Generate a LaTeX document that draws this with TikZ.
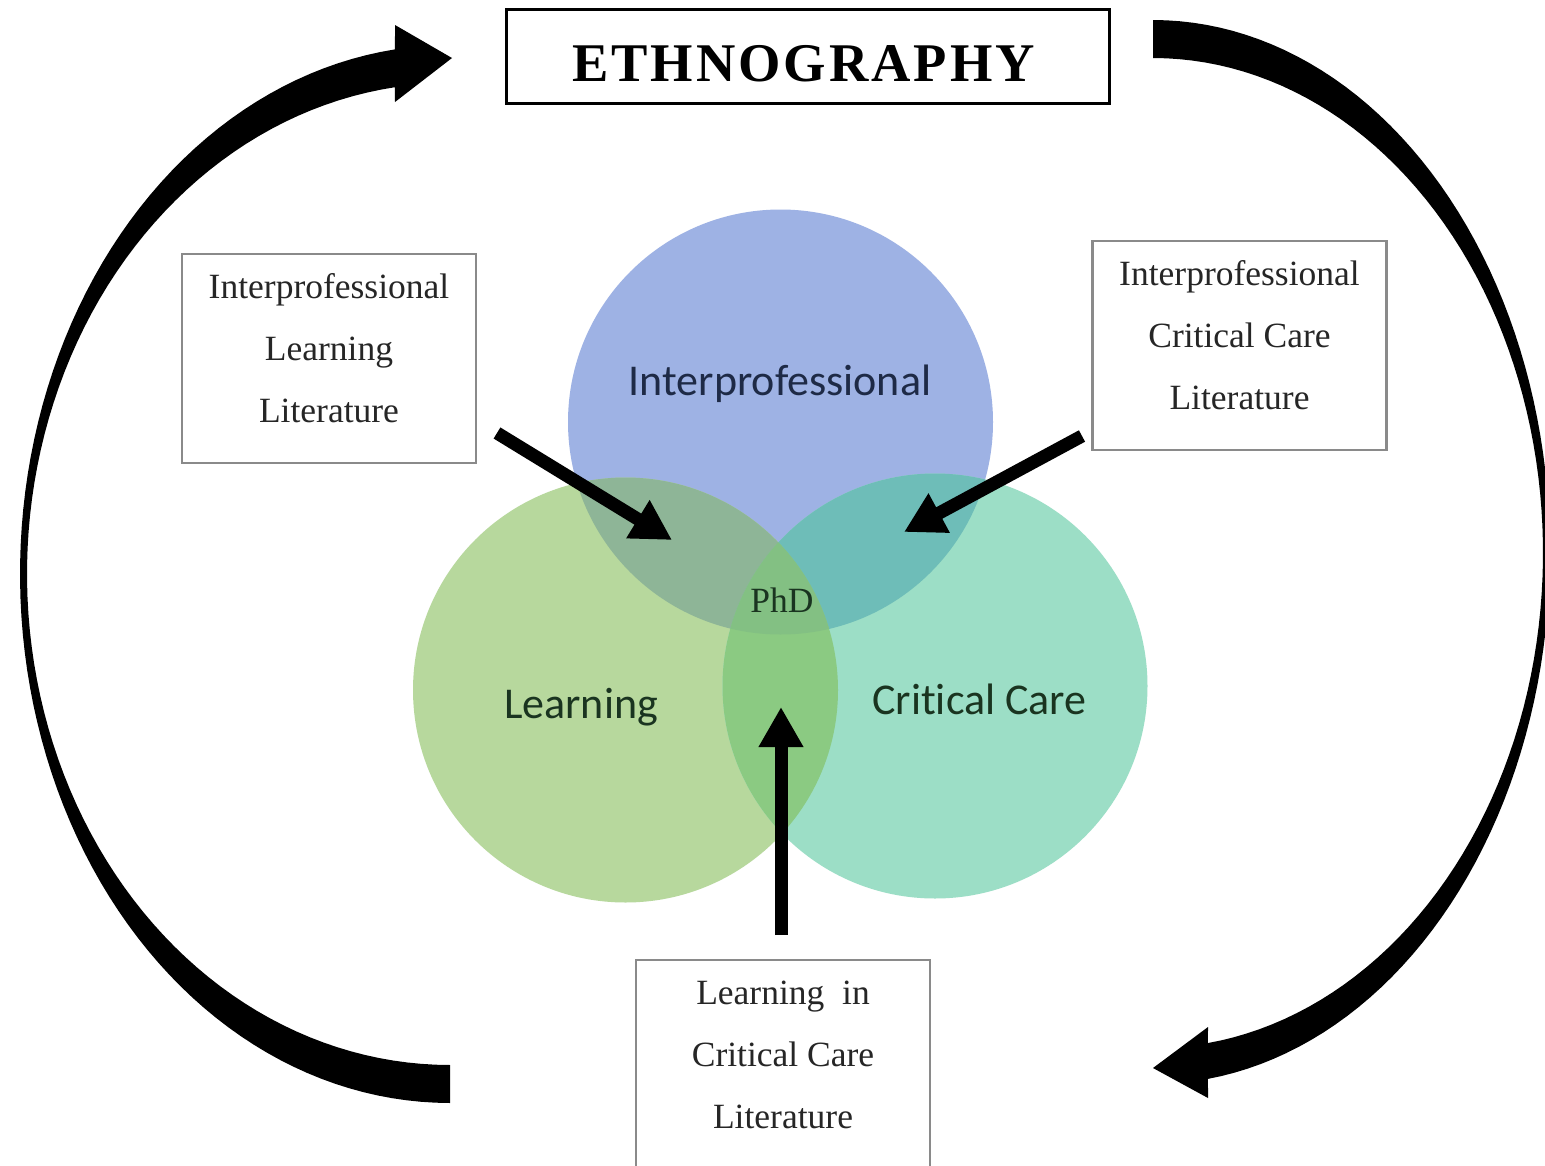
\documentclass[tikz,border=0pt]{standalone}
\usepackage{fontspec}
\setmainfont{Liberation Serif}
\newfontfamily\vennfont[Ligatures=NoCommon]{Carlito}
\usetikzlibrary{arrows.meta}
\definecolor{cblue}{RGB}{158,178,228}
\definecolor{cgreen}{RGB}{183,216,157}
\definecolor{cteal}{RGB}{156,222,198}
\definecolor{cBG}{RGB}{142,181,151}
\definecolor{cBT}{RGB}{110,189,184}
\definecolor{cGT}{RGB}{139,202,130}
\definecolor{cCen}{RGB}{131,192,131}
\definecolor{txtI}{RGB}{30,42,70}
\definecolor{txtG}{RGB}{26,52,32}
\definecolor{boxgray}{RGB}{138,138,138}
\definecolor{boxtxt}{RGB}{38,38,38}
\newcommand\lstr{\rule[-22pt]{0pt}{47pt}}
\newcommand\ethk{\kern3pt}
\begin{document}
\begin{tikzpicture}[x=1pt,y=-1pt,
  litbox/.style={draw=boxgray,line width=2.2pt,fill=white,inner sep=0pt,
    minimum width=294pt,minimum height=209pt,align=center,text=boxtxt,
    font=\fontsize{35.5}{62}\selectfont},
  ethbox/.style={draw=black,line width=3pt,inner sep=0pt,minimum width=603pt,minimum height=94pt},
  ethtext/.style={inner sep=0pt,font=\fontsize{54.5}{60}\selectfont\bfseries,text=black},
  venntext/.style={inner sep=0pt,font=\vennfont\fontsize{44}{50}\selectfont},
  phdtext/.style={inner sep=0pt,font=\fontsize{35.5}{40}\selectfont,text=txtG},
  bigarrow/.style={line width=13pt,-{Triangle[length=40pt,width=42pt]}},
  cyclearrow/.style={fill=black}]
\useasboundingbox (0,0) rectangle (1545,1165);
\fill[white] (0,0) rectangle (1545,1165);
\clip (0,0) rectangle (1545,1165);

% Venn circles
\coordinate (cI) at (780.5,422);
\coordinate (cL) at (625.5,690);
\coordinate (cC) at (935,686);
\fill[cblue] (cI) circle[radius=212.5];
\fill[cgreen] (cL) circle[radius=212.5];
\fill[cteal] (cC) circle[radius=212.5];
\begin{scope}
  \clip (cI) circle[radius=212.5];
  \fill[cBG] (cL) circle[radius=212.5];
  \fill[cBT] (cC) circle[radius=212.5];
\end{scope}
\begin{scope}
  \clip (cL) circle[radius=212.5];
  \fill[cGT] (cC) circle[radius=212.5];
  \clip (cI) circle[radius=212.5];
  \fill[cCen] (cC) circle[radius=212.5];
\end{scope}

\node[venntext,text=txtI,anchor=base] (lI) at (780,395) {Interprofessional};
\node[venntext,text=txtG,anchor=base] (lL) at (581,718) {Learning};
\node[venntext,text=txtG,anchor=base] (lC) at (979.5,714) {Critical Care};
\node[phdtext,anchor=base] (phd) at (782,612) {PhD};

% Title box
\node[ethbox] (eth) at (807.5,56) {};
\node[ethtext,anchor=base] (ethT) at (803.5,81) {E\ethk T\ethk H\ethk N\ethk O\ethk G\ethk R\ethk A\ethk P\ethk H\ethk Y};

% Literature boxes
\node[litbox] (bL) at (329,358.5) {\lstr Interprofessional\\ \lstr Learning\\ \lstr Literature};
\node[litbox] (bR) at (1239.5,345.5) {\lstr Interprofessional\\ \lstr Critical Care\\ \lstr Literature};
\node[litbox] (bB) at (783,1064.5) {\lstr Learning~~in\\ \lstr Critical Care\\ \lstr Literature};

% Straight arrows into the Venn diagram
\coordinate (a1s) at (497,433); \coordinate (a1e) at (672,540);
\coordinate (a2s) at (1082,436); \coordinate (a2e) at (904,532);
\coordinate (a3s) at (781,935); \coordinate (a3e) at (781,707);
\draw[bigarrow] (a1s) -- (a1e);
\draw[bigarrow] (a2s) -- (a2e);
\draw[bigarrow] (a3s) -- (a3e);

% Left cycle arrow (bottom -> ETHNOGRAPHY)
\fill[cyclearrow] (450,1103)
  -- plot[domain=90:262.65,samples=90] ({450+430*cos(\x)},{574+529*sin(\x)})
  -- (395,25) -- (452,58) -- (395,102)
  -- plot[domain=262.5:90,samples=90] ({450+423*cos(\x)},{574+491*sin(\x)})
  -- cycle;

% Right cycle arrow (ETHNOGRAPHY -> bottom)
\fill[cyclearrow] (1153,20)
  -- plot[domain=-90:82.04,samples=90] ({1153+397*cos(\x)},{552+532*sin(\x)})
  -- (1208,1098) -- (1153,1068) -- (1208,1027)
  -- plot[domain=81.9:-90,samples=90] ({1153+390*cos(\x)},{553+495*sin(\x)})
  -- cycle;
\end{tikzpicture}
\end{document}
